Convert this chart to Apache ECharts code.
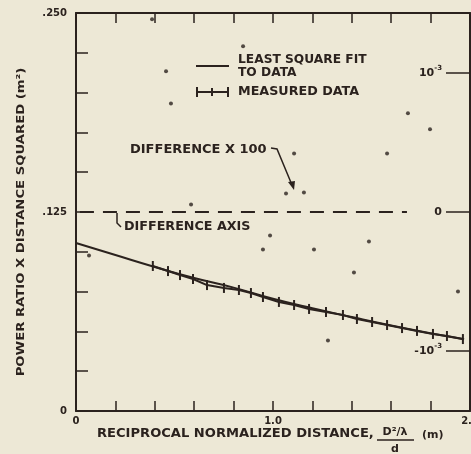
<!DOCTYPE html>
<html>
<head>
<meta charset="utf-8">
<script src="https://cdn.jsdelivr.net/npm/echarts@6/dist/echarts.min.js"></script>
<style>
  html, body { margin: 0; padding: 0; background: #ede8d6; }
</style>
</head>
<body>
<div id="main" style="width: 471px; height: 454px"></div>
<script>
// least square fit curve
const fitX = [0, 0.2, 0.4, 0.6, 0.8, 1.0, 1.2, 1.4, 1.6, 1.8, 1.97];
const fitY = [0.1055, 0.098, 0.0905, 0.0835, 0.0775, 0.0705, 0.0645, 0.059, 0.0537, 0.0488, 0.045];

// measured data (hash marks)
const measX = [0.39, 0.467, 0.528, 0.594, 0.665, 0.751, 0.827, 0.888, 0.949, 1.03, 1.107,
  1.183, 1.269, 1.355, 1.426, 1.503, 1.579, 1.655, 1.731, 1.812, 1.883, 1.964];
const measY = [0.0911, 0.0879, 0.0854, 0.0829, 0.0791, 0.0773, 0.076, 0.0741, 0.0716, 0.0685, 0.0666,
  0.0641, 0.0622, 0.0603, 0.0578, 0.0559, 0.054, 0.0521, 0.0503, 0.0484, 0.0471, 0.0452];

// difference x 100, right axis in units of 10^-3
const diffX = [0.386, 0.457, 0.482, 0.584, 0.848, 1.107, 1.066, 1.157, 1.579, 1.685, 1.797,
  0.066, 0.985, 0.949, 1.208, 1.487, 1.411, 1.939, 1.279];
const diffY = [1.385, 1.011, 0.78, 0.054, 1.191, 0.421, 0.133, 0.14, 0.421, 0.709, 0.594,
  -0.313, -0.169, -0.27, -0.27, -0.212, -0.435, -0.572, -0.924];

// difference axis (dashed) on the left scale
const diffAxisValue = 0.125;
const diffAxisFrom = 0.02;
const diffAxisTo = 1.68;

const yTickLabels = { 0: "0", 0.125: ".125", 0.25: ".250" };
const xTickLabels = { 0: "0", 1: "1.0", 2: "2.0" };

const ink = "#2b221e";
const font = "DejaVu Sans";

function pickLabel(table, v) {
  for (const k in table) {
    if (Math.abs(Number(k) - v) < 1e-9) return table[k];
  }
  return "";
}

// stretched bold text, like the lettering on the original
function label(x, y, text, size, stretch, extra) {
  return Object.assign({
    type: "text",
    x: x,
    y: y,
    scaleX: stretch,
    style: { x: 0, y: 0, text: text, font: "bold " + size + "px " + font, fill: ink, verticalAlign: "middle" }
  }, extra || {});
}

const chart = echarts.init(document.getElementById("main"));

const axisLineStyle = { color: ink, width: 2 };
const tickStyle = { color: ink, width: 1.5 };

const option = {
  backgroundColor: "#ede8d6",
  animation: false,
  grid: { left: 76, right: 1, top: 13, bottom: 43, outerBoundsMode: "none", containLabel: false },
  xAxis: [
    {
      type: "value",
      min: 0,
      max: 2,
      interval: 0.2,
      position: "bottom",
      axisLine: { onZero: false, lineStyle: axisLineStyle },
      axisTick: { inside: true, length: 10, lineStyle: tickStyle },
      splitLine: { show: false },
      axisLabel: {
        margin: 5,
        color: ink,
        fontFamily: font,
        fontWeight: "bold",
        fontSize: 10,
        formatter: v => pickLabel(xTickLabels, v)
      }
    },
    {
      type: "value",
      min: 0,
      max: 2,
      interval: 0.2,
      position: "top",
      axisLine: { onZero: false, lineStyle: axisLineStyle },
      axisTick: { inside: true, length: 10, lineStyle: tickStyle },
      splitLine: { show: false },
      axisLabel: { show: false }
    }
  ],
  yAxis: [
    {
      type: "value",
      min: 0,
      max: 0.25,
      interval: 0.025,
      position: "left",
      axisLine: { show: true, onZero: false, lineStyle: axisLineStyle },
      axisTick: { show: true, inside: true, length: 12, lineStyle: tickStyle },
      splitLine: { show: false },
      axisLabel: {
        margin: 9,
        color: ink,
        fontFamily: font,
        fontWeight: "bold",
        fontSize: 10,
        formatter: v => pickLabel(yTickLabels, v)
      }
    },
    {
      type: "value",
      min: -1.43,
      max: 1.43,
      position: "right",
      axisLine: { show: true, onZero: false, lineStyle: axisLineStyle },
      axisTick: { show: true, inside: true, length: 24, lineStyle: tickStyle, customValues: [-1, 0, 1] },
      splitLine: { show: false },
      axisLabel: {
        inside: true,
        margin: 28,
        customValues: [-1, 0, 1],
        color: ink,
        fontFamily: font,
        fontWeight: "bold",
        fontSize: 11,
        formatter: v => (v === 0 ? "{b|0}" : v > 0 ? "{b|10}{s|-3}" : "{b|-10}{s|-3}"),
        rich: {
          b: { fontFamily: font, fontWeight: "bold", fontSize: 11, color: ink, lineHeight: 16 },
          s: { fontFamily: font, fontWeight: "bold", fontSize: 7, color: ink, lineHeight: 16, verticalAlign: "top" }
        }
      }
    }
  ],
  series: [
    {
      name: "difference",
      type: "scatter",
      yAxisIndex: 1,
      symbol: "circle",
      symbolSize: 4,
      itemStyle: { color: ink },
      data: diffX.map((x, i) => [x, diffY[i]])
    },
    {
      name: "fit",
      type: "line",
      showSymbol: false,
      smooth: true,
      lineStyle: { color: ink, width: 2 },
      data: fitX.map((x, i) => [x, fitY[i]]),
      markLine: {
        silent: true,
        symbol: "none",
        label: { show: false },
        lineStyle: { color: ink, width: 2, type: [14, 9] },
        data: [[{ coord: [diffAxisFrom, diffAxisValue] }, { coord: [diffAxisTo, diffAxisValue] }]]
      }
    },
    {
      name: "measured",
      type: "line",
      symbol: "rect",
      symbolSize: [2, 10],
      itemStyle: { color: ink },
      lineStyle: { color: ink, width: 2 },
      data: measX.map((x, i) => [x, measY[i]])
    }
  ],
  graphic: [
    // legend
    { type: "line", shape: { x1: 196, y1: 66, x2: 229, y2: 66 }, style: { stroke: ink, lineWidth: 2 } },
    label(238, 60, "LEAST SQUARE FIT", 12, 1.02),
    label(238, 73, "TO DATA", 12, 1.02),
    { type: "line", shape: { x1: 196, y1: 92, x2: 229, y2: 92 }, style: { stroke: ink, lineWidth: 2 } },
    { type: "line", shape: { x1: 197, y1: 87, x2: 197, y2: 97 }, style: { stroke: ink, lineWidth: 2 } },
    { type: "line", shape: { x1: 212, y1: 88, x2: 212, y2: 96 }, style: { stroke: ink, lineWidth: 2 } },
    { type: "line", shape: { x1: 228, y1: 87, x2: 228, y2: 97 }, style: { stroke: ink, lineWidth: 2 } },
    label(238, 92, "MEASURED DATA", 12, 1.06),
    // annotations
    label(130, 150, "DIFFERENCE X 100", 11.5, 1.13),
    { type: "polyline", shape: { points: [[271, 148], [277, 149], [292, 185]] }, style: { stroke: ink, lineWidth: 1.5, fill: null } },
    { type: "polygon", shape: { points: [[294, 190], [288, 182], [295, 181]] }, style: { fill: ink } },
    { type: "polyline", shape: { points: [[117, 213], [117, 223], [121, 227]] }, style: { stroke: ink, lineWidth: 1.5, fill: null } },
    label(124, 227, "DIFFERENCE AXIS", 12, 1.06),
    // axis titles
    label(21, 222, "POWER RATIO X DISTANCE SQUARED (m²)", 11, 1.2, {
      rotation: Math.PI / 2,
      style: { x: 0, y: 0, text: "POWER RATIO X DISTANCE SQUARED (m²)", font: "bold 11px " + font, fill: ink, align: "center", verticalAlign: "middle" }
    }),
    label(97, 434, "RECIPROCAL NORMALIZED DISTANCE,", 12, 1.09),
    { type: "text", style: { x: 395, y: 432, text: "D²/λ", font: "bold 11px " + font, fill: ink, align: "center", verticalAlign: "middle" } },
    { type: "line", shape: { x1: 377, y1: 440, x2: 414, y2: 440 }, style: { stroke: ink, lineWidth: 1.5 } },
    { type: "text", style: { x: 395, y: 449, text: "d", font: "bold 11px " + font, fill: ink, align: "center", verticalAlign: "middle" } },
    { type: "text", style: { x: 422, y: 435, text: "(m)", font: "bold 11px " + font, fill: ink, verticalAlign: "middle" } }
  ]
};

chart.setOption(option);
</script>
</body>
</html>
